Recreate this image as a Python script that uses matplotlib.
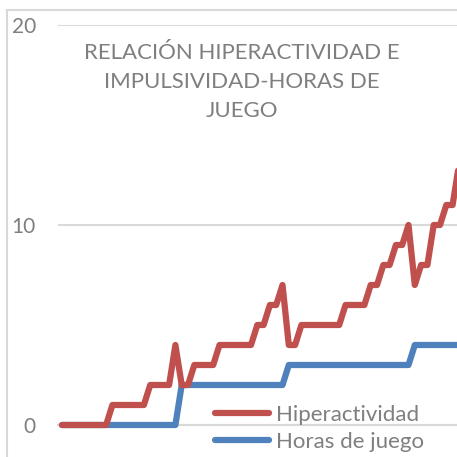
import numpy as np
import matplotlib
matplotlib.use("Agg")
import matplotlib.pyplot as plt
from matplotlib.patches import Rectangle

# Values (one point per respondent, sorted)
hiperactividad = [0, 0, 0, 0, 0, 0, 0, 0,
                  1, 1, 1, 1, 1, 1,
                  2, 2, 2, 2, 4, 2, 2,
                  3, 3, 3, 3,
                  4, 4, 4, 4, 4, 4,
                  5, 5, 6, 6, 7, 4, 4,
                  5, 5, 5, 5, 5, 5, 5,
                  6, 6, 6, 6, 7, 7, 8, 8, 9, 9, 10, 7, 8, 8, 10, 10, 11, 11, 13]
horas_juego = [0] * 19 + [2] * 17 + [3] * 20 + [4] * 8
series_names = ["Hiperactividad", "Horas de juego"]
yticks = [0, 10, 20]
title = "RELACIÓN HIPERACTIVIDAD E\nIMPULSIVIDAD-HORAS DE\nJUEGO"

red = "#c0504d"
blue = "#4f81bd"
grey_text = "#7f7f7f"
grid_col = "#d9d9d9"

plt.rcParams["font.family"] = ["Lato", "DejaVu Sans"]

W = 457
fig = plt.figure(figsize=(4.57, 4.57), dpi=100)
ax = fig.add_axes([58 / W, 32 / W, (W - 58) / W, 400 / W])

x = np.arange(len(hiperactividad))
x0, step = 62, 6.3  # pixel position of first point and spacing
ax.set_xlim((58 - x0) / step, (W - x0) / step)
ax.set_ylim(0, 20)

lw = 4.5
ax.plot(x, horas_juego, color=blue, lw=lw, solid_capstyle="round",
        solid_joinstyle="round", clip_on=False, zorder=3, label=series_names[1])
ax.plot(x, hiperactividad, color=red, lw=lw, solid_capstyle="round",
        solid_joinstyle="round", clip_on=False, zorder=4, label=series_names[0])

ax.set_yticks(yticks)
ax.set_xticks([])
ax.tick_params(axis="y", length=0, pad=16, labelsize=15, labelcolor=grey_text)
ax.yaxis.grid(True, color=grid_col, lw=1.5, zorder=0)
ax.set_axisbelow(True)
for s in ["top", "right", "left"]:
    ax.spines[s].set_visible(False)
ax.spines["bottom"].set_color(grid_col)
ax.spines["bottom"].set_linewidth(1.5)

# chart title
fig.text(242 / W, 1 - 82 / W, title, ha="center", va="center",
         fontsize=16, color=grey_text, linespacing=1.55)

# legend
handles, labels = ax.get_legend_handles_labels()
fig.legend(handles[::-1], labels[::-1], loc="upper left",
           bbox_to_anchor=(215 / W, 1 - 405 / W), frameon=False,
           fontsize=16, handlelength=2.45, handletextpad=0.3,
           labelspacing=0.3, borderpad=0, borderaxespad=0,
           labelcolor=grey_text)

# chart area border
fig.add_artist(Rectangle((7 / W, -0.1), 1.2, 1.1 - 10 / W, transform=fig.transFigure,
                         fill=False, edgecolor=grid_col, lw=1.5, clip_on=False))

fig.savefig("out.png", dpi=100)
